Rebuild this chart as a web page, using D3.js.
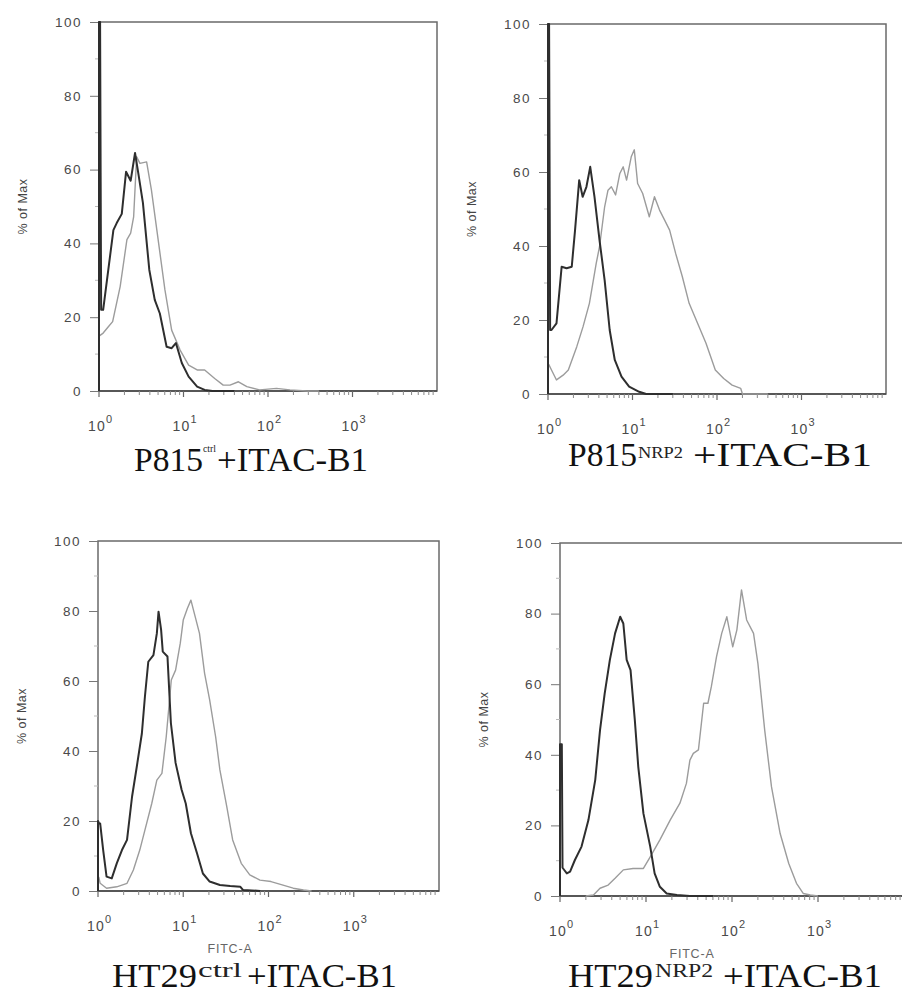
<!DOCTYPE html>
<html><head><meta charset="utf-8">
<script src="https://cdn.jsdelivr.net/npm/d3@7"></script>
<style>body{margin:0;background:#fff}svg{display:block}</style>
</head><body>
<svg id="c" width="902" height="998"></svg>
<script>
// ---- data: [FITC-A intensity, % of Max] ----
const p1Dark = [[1,0],[1,100],[1.03,100],[1.06,22],[1.12,22],[1.48,43.6],[1.62,45.5],[1.86,48],[2.09,59.4],[2.37,57],[2.67,64.5],[2.92,59],[3.31,51],[3.94,32.8],[4.57,24.7],[5.25,21],[6.31,12],[7.24,11.6],[8.13,13],[9.55,7.6],[11.5,3.9],[14.5,1.2],[17.8,0.3],[22,0],[40,0]];
const p1Light = [[1.02,15],[1.12,15.7],[1.29,17.4],[1.45,18.8],[1.78,28.3],[2.14,41],[2.37,42.8],[2.57,47.2],[2.79,63.5],[3.05,61.7],[3.66,62.1],[4.17,54.5],[5.01,41],[6.03,27.4],[7.24,16.5],[9.12,11.1],[11.5,7],[14.5,5.7],[17.8,5.7],[23.4,3.4],[29.5,1.6],[35.5,1.6],[44.7,2.5],[56.2,1.2],[79.4,0.3],[126,0.7],[182,0.3],[288,0],[400,0]];
const p2Dark = [[1,0],[1,100],[1.03,100],[1.06,17.3],[1.10,17.3],[1.26,19.1],[1.45,34.4],[1.66,34],[1.91,34.4],[2.09,44.3],[2.34,57.8],[2.57,53.3],[2.85,56],[3.16,61.4],[3.55,53.3],[4.07,41.6],[4.68,30.8],[5.37,17.3],[6.17,9.2],[7.41,4.7],[9.12,2],[12.0,0.6],[14.5,0],[30,0]];
const p2Light = [[1.02,8],[1.10,6.5],[1.26,3.8],[1.51,5.1],[1.74,6.5],[2.19,12.8],[2.60,18.2],[3.09,24.5],[3.72,35.3],[4.07,39.8],[4.68,50.6],[5.13,55.1],[5.62,56],[6.31,53.8],[7.08,59.6],[7.76,61.4],[8.51,57.8],[9.66,64.1],[10.5,66],[11.5,56.9],[13.2,54.2],[15.8,47.9],[18.2,53.3],[20.9,49.7],[24.0,47],[27.5,44.3],[32.4,38],[38.9,31.7],[46.8,24.5],[58.9,19.1],[74.1,13.7],[95.5,6.5],[120,4.2],[151,2.4],[191,1.5],[200,0],[400,0]];
const p3Dark = [[1,0],[1,20],[1.03,19.3],[1.06,19.3],[1.15,11.7],[1.26,4.1],[1.45,3.6],[1.66,7.9],[1.91,11.7],[2.19,14.6],[2.51,27],[2.85,35.5],[3.27,45],[3.55,55.5],[3.89,65.5],[4.47,67.4],[4.90,73.6],[5.13,79.8],[5.50,74.6],[5.75,68.4],[6.53,67],[7.16,48],[8.13,36.6],[9.55,29],[10.7,25],[12.3,16.5],[14.5,10.8],[17.0,5],[20.4,2.7],[26.9,1.7],[35.5,1.4],[46.8,1.2],[50.1,0.3],[80,0]];
const p3Light = [[1.02,4],[1.06,2.2],[1.26,0.8],[1.66,1.2],[2.19,2.2],[2.60,6],[3.09,11.7],[3.55,17.4],[4.27,25],[4.90,31.7],[5.62,33.6],[6.31,44],[7.24,60.3],[8.13,63.1],[9.23,70.8],[10,77.4],[11.2,80.8],[12.3,83.1],[13.8,78.4],[15.5,73.6],[17.8,62.2],[20.4,54.6],[24.0,44],[26.9,34.6],[32.4,24.1],[38.0,14.6],[47.9,7.9],[60.3,4.6],[79.4,3.1],[107,2.7],[148,1.7],[195,0.8],[257,0.3],[320,0]];
const p4Dark = [[1,0],[1,43],[1.05,43],[1.07,8],[1.20,6.4],[1.31,6.9],[1.49,10.2],[1.78,14],[2.14,21.5],[2.57,32.9],[2.92,47],[3.31,57.4],[3.80,66.9],[4.37,74.4],[5.01,79.1],[5.45,77.2],[5.96,66.9],[6.61,64],[7.41,49.9],[8.13,36.6],[9.33,23.4],[11.2,14],[12.6,6.4],[14.5,2.6],[17.4,0.7],[22.9,0.3],[32.4,0],[60,0]];
const p4Light = [[2.0,0],[2.45,0.3],[2.92,2.2],[3.63,3.1],[4.37,5],[5.45,7.4],[7.08,7.8],[9.33,7.8],[11.2,11.1],[14.5,15.9],[19.1,21.5],[24.8,26.3],[29.5,31.9],[32.4,38.5],[35.5,40.4],[40.7,41.4],[46.8,54.6],[52.5,54.6],[57.5,59.3],[66.1,67.8],[75.9,74.4],[87.1,79.1],[102,70.6],[114,75.4],[129,86.7],[148,78.2],[178,74.4],[200,65.9],[240,47],[288,30.9],[363,17.7],[457,9.2],[562,3.6],[676,0.7],[813,0.3],[1000,0]];

const yTicks = [0, 20, 40, 60, 80, 100];
const xDecades = [0, 1, 2, 3];
const xDomain = [1, 10000];
const yLabel = "% of Max";
const xLabel = "FITC-A";
const titles = [
  {main: "P815", sup: "ctrl", rest: "+ITAC-B1"},
  {main: "P815", sup: "NRP2", rest: "+ITAC-B1"},
  {main: "HT29", sup: "ctrl", rest: "+ITAC-B1"},
  {main: "HT29", sup: "NRP2", rest: "+ITAC-B1"}
];

// ---- layout ----
const layout = [
  {box: [99, 22, 437, 391], showX: false,
   t: {x: 134, w: 69, sx: 203, sw: 13, ss: 11, sy: 452, rx: 217, rw: 151, y: 471}},
  {box: [548, 24, 886, 394], showX: false,
   t: {x: 568, w: 69, sx: 638, sw: 45, ss: 17, sy: 458, rx: 693, rw: 179, y: 466}},
  {box: [98, 541, 439, 891], showX: true,
   t: {x: 112, w: 85, sx: 198, sw: 44, ss: 20, sy: 977, rx: 247, rw: 150, y: 987}},
  {box: [560, 543, 904, 896], showX: true,
   t: {x: 568, w: 85, sx: 655, sw: 58, ss: 18, sy: 977, rx: 723, rw: 159, y: 987}}
];
const series = [[p1Dark, p1Light], [p2Dark, p2Light], [p3Dark, p3Light], [p4Dark, p4Light]];

const svg = d3.select("#c");
const sans = "Arial, 'Liberation Sans', sans-serif";
const serif = "'Liberation Serif', 'Times New Roman', serif";

layout.forEach((L, i) => {
  const [x0, y0, x1, y1] = L.box;
  const x = d3.scaleLog().domain(xDomain).range([x0, x1]);
  const y = d3.scaleLinear().domain([0, 100]).range([y1, y0]);
  const g = svg.append("g");

  // frame
  g.append("rect").attr("x", x0).attr("y", y0).attr("width", x1 - x0).attr("height", y1 - y0)
    .attr("fill", "none").attr("stroke", "#6a6a6a").attr("stroke-width", 1.5);
  g.append("line").attr("x1", x0).attr("x2", x1).attr("y1", y1).attr("y2", y1)
    .attr("stroke", "#444").attr("stroke-width", 1.6);

  // y axis
  const ya = d3.axisLeft(y).tickValues(yTicks).tickSize(9).tickPadding(8);
  const yg = g.append("g").attr("transform", `translate(${x0},0)`).call(ya);
  yg.select(".domain").remove();
  yg.selectAll(".tick line").attr("stroke", "#777").attr("stroke-width", 1);
  yg.selectAll(".tick text").attr("font-family", sans)
    .attr("font-size", 13.5).attr("letter-spacing", 1.5).attr("fill", "#4a4a4a");
  // minor y ticks
  g.selectAll(".ym").data(d3.range(10, 100, 20)).join("line")
    .attr("x1", x0 - 4).attr("x2", x0).attr("y1", d => y(d)).attr("y2", d => y(d))
    .attr("stroke", "#bbb").attr("stroke-width", 1);

  // x minor ticks
  const minor = [];
  xDecades.forEach(d => { for (let k = 2; k <= 9; k++) minor.push(k * Math.pow(10, d)); });
  g.selectAll(".xm").data(minor).join("line")
    .attr("x1", d => x(d)).attr("x2", d => x(d)).attr("y1", y1).attr("y2", y1 + 4)
    .attr("stroke", "#888").attr("stroke-width", 1);
  const major = xDecades.map(d => Math.pow(10, d));
  g.selectAll(".xM").data(major).join("line")
    .attr("x1", d => x(d)).attr("x2", d => x(d)).attr("y1", y1).attr("y2", y1 + 6)
    .attr("stroke", "#666").attr("stroke-width", 1.2);
  const xl = g.selectAll(".xl").data(xDecades).join("text")
    .attr("x", d => x(Math.pow(10, d)) - 11).attr("y", y1 + 40)
    .attr("font-family", sans).attr("font-size", 14)
    .attr("letter-spacing", 1.2).attr("fill", "#4a4a4a");
  xl.append("tspan").text("10");
  xl.append("tspan").attr("dy", -8).attr("font-size", 11).text(d => d);

  // y label
  g.append("text").attr("transform", `translate(${x0 - 72},${(y0 + y1) / 2}) rotate(-90)`)
    .attr("text-anchor", "middle").attr("font-family", sans)
    .attr("font-size", 12.5).attr("letter-spacing", 0.5).attr("fill", "#444").text(yLabel);

  // x label
  if (L.showX) {
    g.append("text").attr("x", x0 + 132).attr("y", y1 + 62).attr("text-anchor", "middle")
      .attr("font-family", sans).attr("font-size", 12.5).attr("letter-spacing", 0.8)
      .attr("fill", "#666").text(xLabel);
  }

  // curves
  const line = d3.line().x(d => x(d[0])).y(d => y(d[1]));
  const [dark, light] = series[i];
  g.append("path").datum(light).attr("d", line).attr("fill", "none")
    .attr("stroke", "#9c9c9c").attr("stroke-width", 1.4).attr("stroke-linejoin", "round");
  g.append("path").datum(dark).attr("d", line).attr("fill", "none")
    .attr("stroke", "#2e2e2e").attr("stroke-width", 2).attr("stroke-linejoin", "round");

  // title
  const T = L.t, tt = titles[i];
  g.append("text").attr("x", T.x).attr("y", T.y).attr("font-family", serif).attr("font-size", 33)
    .attr("fill", "#111").attr("textLength", T.w).attr("lengthAdjust", "spacingAndGlyphs").text(tt.main);
  g.append("text").attr("x", T.sx).attr("y", T.sy).attr("font-family", serif).attr("font-size", T.ss)
    .attr("fill", "#222").attr("textLength", T.sw).attr("lengthAdjust", "spacingAndGlyphs").text(tt.sup);
  g.append("text").attr("x", T.rx).attr("y", T.y).attr("font-family", serif).attr("font-size", 33)
    .attr("fill", "#111").attr("textLength", T.rw).attr("lengthAdjust", "spacingAndGlyphs").text(tt.rest);
});
</script>
</body></html>
